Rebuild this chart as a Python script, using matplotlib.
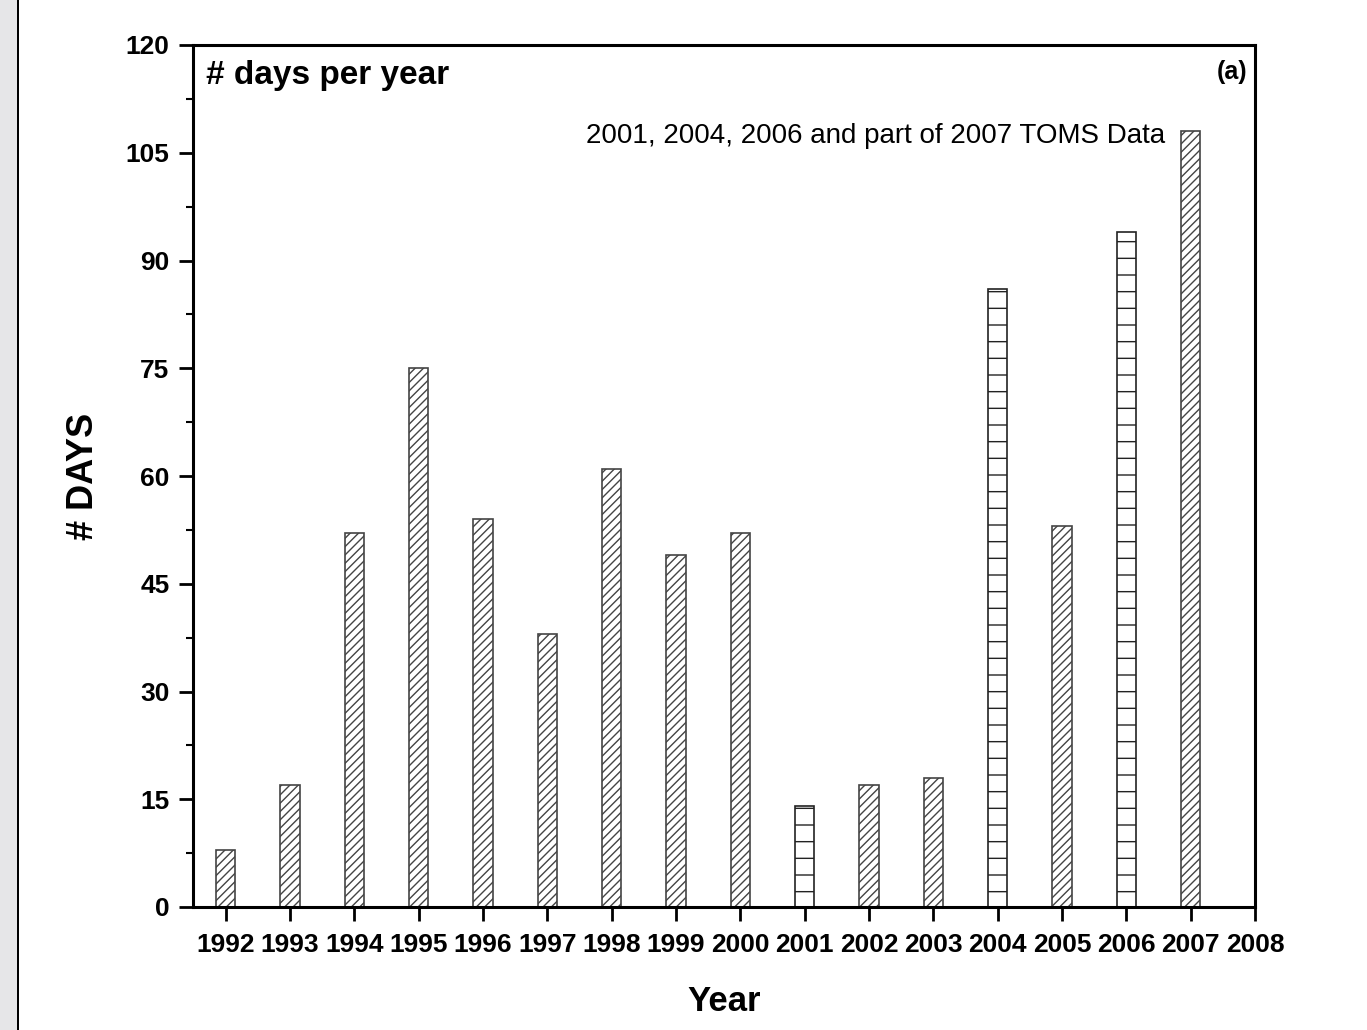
import numpy as np
import matplotlib.pyplot as plt
from matplotlib.patches import Rectangle
from matplotlib.ticker import MultipleLocator

plt.rcParams['font.family'] = ['Liberation Sans', 'DejaVu Sans']
plt.rcParams['hatch.linewidth'] = 1.0

years = [1992, 1993, 1994, 1995, 1996, 1997, 1998, 1999, 2000,
         2001, 2002, 2003, 2004, 2005, 2006, 2007]
days = [8, 17, 52, 75, 54, 38, 61, 49, 52, 14, 17, 18, 86, 53, 94, 108]
toms_years = [2001, 2004, 2006]

fig = plt.figure(figsize=(13.67, 10.30), dpi=100)
# gray strip on the left edge
fig.patches.append(Rectangle((0, 0), 17/1367, 1, transform=fig.transFigure,
                             facecolor='#e6e6e8', edgecolor='none'))
fig.patches.append(Rectangle((17/1367, 0), 2/1367, 1, transform=fig.transFigure,
                             facecolor='black', edgecolor='none'))

ax = fig.add_axes([193/1367, 1 - 907/1030, (1255 - 193)/1367, (907 - 45)/1030])

for yr, d in zip(years, days):
    if yr in toms_years:
        ax.bar(yr, d, width=0.3, facecolor='white', edgecolor='#222222',
               hatch='-', linewidth=1.2)
    else:
        ax.bar(yr, d, width=0.3, facecolor='white', edgecolor='#444444',
               hatch='////', linewidth=1.2)

ax.set_xlim(1991.49, 2008)
ax.set_ylim(0, 120)
ax.set_xticks(range(1992, 2009))
ax.yaxis.set_major_locator(MultipleLocator(15))
ax.yaxis.set_minor_locator(MultipleLocator(7.5))

for s in ax.spines.values():
    s.set_linewidth(2.2)

ax.tick_params(axis='both', which='major', direction='out', length=10, width=2,
               labelsize=19)
ax.tick_params(axis='x', which='major', pad=9)
ax.tick_params(axis='y', which='major', pad=7)
ax.tick_params(axis='y', which='minor', direction='out', length=5, width=1.5)
for lab in ax.get_xticklabels() + ax.get_yticklabels():
    lab.set_fontweight('bold')

ax.set_xlabel('Year', fontsize=25, fontweight='bold', labelpad=20)
ax.set_ylabel('# DAYS', fontsize=26, fontweight='bold', labelpad=18)

ax.text(0.012, 0.983, '# days per year', transform=ax.transAxes, fontsize=24,
        fontweight='bold', ha='left', va='top')
ax.text(0.993, 0.983, '(a)', transform=ax.transAxes, fontsize=18,
        fontweight='bold', ha='right', va='top')
ax.text(0.915, 0.91, '2001, 2004, 2006 and part of 2007 TOMS Data',
        transform=ax.transAxes, fontsize=20, ha='right', va='top')

fig.savefig('out.png', dpi=100)
